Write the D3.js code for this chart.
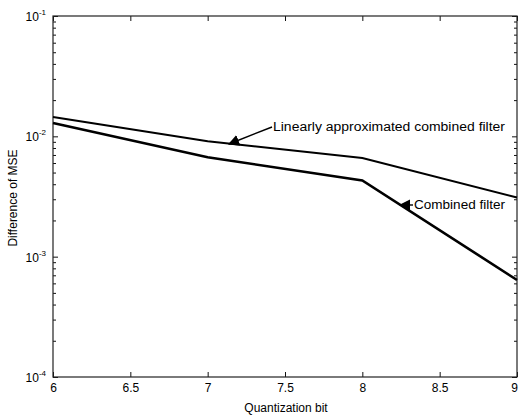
<!DOCTYPE html>
<html>
<head>
<meta charset="utf-8">
<script src="https://cdn.jsdelivr.net/npm/d3@7"></script>
<style>
  body { margin: 0; background: #fff; }
  text { font-family: "Liberation Sans", Arial, sans-serif; fill: #000; }
</style>
</head>
<body>
<svg id="svg" width="518" height="417"></svg>
<script>
// data
var bits = [6, 7, 8, 9];
var combined = [0.0129, 0.0067, 0.0043, 0.00064];
var linearApprox = [0.0145, 0.0091, 0.0066, 0.0031];
var xTicks = [6, 6.5, 7, 7.5, 8, 8.5, 9];
var yTicks = [1e-4, 1e-3, 1e-2, 1e-1];
var yExp = ['-4', '-3', '-2', '-1'];

var margin = { top: 16, right: 1, bottom: 40, left: 53 };
var width = 518 - margin.left - margin.right,
  height = 417 - margin.top - margin.bottom;

var scaleX = d3.scaleLinear().domain([6, 9]).range([0, width]);
var scaleY = d3.scaleLog().domain([1e-4, 1e-1]).range([height, 0]);

var s = d3.select('#svg');
var g = s.append('g')
  .attr('transform', 'translate(' + margin.left + ',' + margin.top + ')');

// minor log ticks
var minor = scaleY.ticks().filter(function (d) {
  return yTicks.indexOf(d) < 0;
});

function styleAxis(sel) {
  sel.select('.domain').remove();
  sel.selectAll('line').attr('stroke', '#111').attr('stroke-width', 1);
}

// left / right
g.append('g').call(d3.axisLeft(scaleY).tickValues(yTicks).tickSize(-5).tickFormat('')).call(styleAxis);
g.append('g').call(d3.axisLeft(scaleY).tickValues(minor).tickSize(-3).tickFormat('')).call(styleAxis);
g.append('g').attr('transform', 'translate(' + width + ',0)')
  .call(d3.axisRight(scaleY).tickValues(yTicks).tickSize(-5).tickFormat('')).call(styleAxis);
g.append('g').attr('transform', 'translate(' + width + ',0)')
  .call(d3.axisRight(scaleY).tickValues(minor).tickSize(-3).tickFormat('')).call(styleAxis);

// bottom / top
g.append('g').attr('transform', 'translate(0,' + height + ')')
  .call(d3.axisBottom(scaleX).tickValues(xTicks).tickSize(-5).tickPadding(6)
    .tickFormat(function (d) { return d; }))
  .call(styleAxis)
  .selectAll('text')
  .attr('font-size', 12)
  .attr('font-family', '"Liberation Sans", Arial, sans-serif')
  .attr('dx', function (d) { return d === 9 ? -3 : 0; });
g.append('g')
  .call(d3.axisTop(scaleX).tickValues(xTicks).tickSize(-5).tickFormat('')).call(styleAxis);

// box
g.append('rect')
  .attr('x', 0).attr('y', 0)
  .attr('width', width).attr('height', height)
  .attr('fill', 'none')
  .attr('stroke', '#222')
  .attr('stroke-width', 1.2);

// y tick labels with superscripts
var yl = g.append('g').selectAll('text')
  .data(yTicks)
  .enter()
  .append('text')
  .attr('x', -7)
  .attr('y', function (d) { return scaleY(d) + 5; })
  .attr('text-anchor', 'end')
  .attr('font-size', 12);
yl.append('tspan').text('10');
yl.append('tspan')
  .attr('dy', -6)
  .attr('font-size', 8)
  .text(function (d, i) { return yExp[i]; });

// lines
var line = d3.line()
  .x(function (d, i) { return scaleX(bits[i]); })
  .y(function (d) { return scaleY(d); });

g.append('path')
  .datum(linearApprox)
  .attr('d', line)
  .attr('fill', 'none')
  .attr('stroke', '#000')
  .attr('stroke-width', 2);

g.append('path')
  .datum(combined)
  .attr('d', line)
  .attr('fill', 'none')
  .attr('stroke', '#000')
  .attr('stroke-width', 2.6);

// annotations
s.append('defs').append('marker')
  .attr('id', 'arr')
  .attr('viewBox', '0 0 10 10')
  .attr('refX', 9).attr('refY', 5)
  .attr('markerWidth', 8).attr('markerHeight', 8)
  .attr('orient', 'auto')
  .append('path')
  .attr('d', 'M0,0L10,5L0,10z')
  .attr('fill', '#000');

function note(txt, tx, ty, len, x2, y2) {
  s.append('line')
    .attr('x1', tx - 1).attr('y1', ty - 4)
    .attr('x2', x2).attr('y2', y2)
    .attr('stroke', '#000').attr('stroke-width', 1.4)
    .attr('marker-end', 'url(#arr)');
  s.append('text')
    .attr('x', tx).attr('y', ty)
    .attr('font-size', 12)
    .attr('textLength', len)
    .attr('lengthAdjust', 'spacingAndGlyphs')
    .text(txt);
}
note('Linearly approximated combined filter', 273, 131, 232, 229, 144);
note('Combined filter', 414, 209, 91, 400, 205);

// axis titles
s.append('text')
  .attr('x', margin.left + scaleX(7.5) + 1)
  .attr('y', 412)
  .attr('text-anchor', 'middle')
  .attr('font-size', 12)
  .text('Quantization bit');

s.append('text')
  .attr('transform', 'translate(17,198) rotate(-90)')
  .attr('text-anchor', 'middle')
  .attr('font-size', 12)
  .text('Difference of MSE');
</script>
</body>
</html>
